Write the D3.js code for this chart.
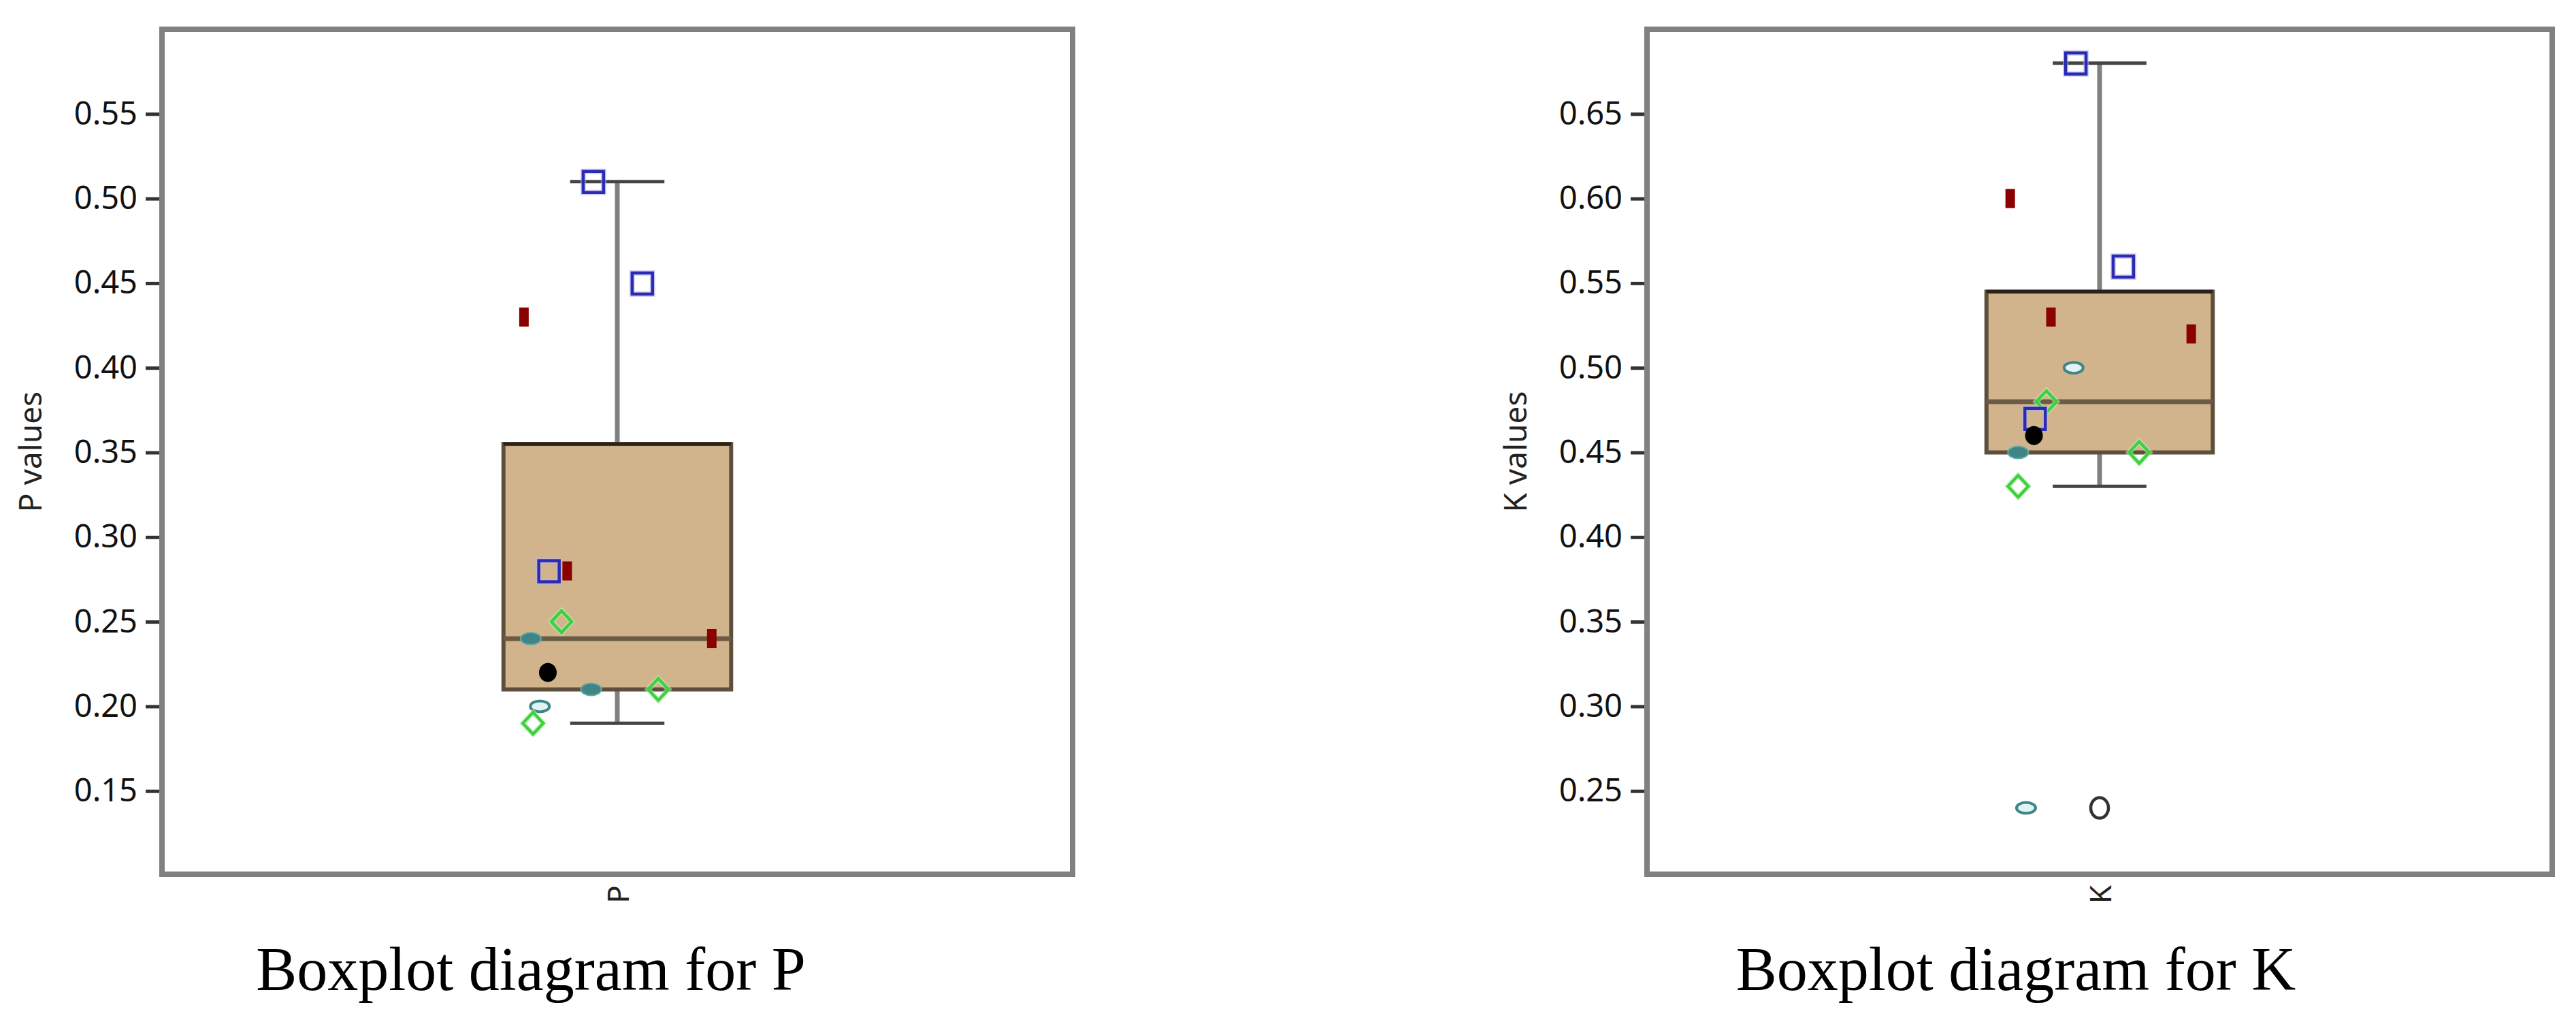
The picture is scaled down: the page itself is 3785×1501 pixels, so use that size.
<!DOCTYPE html>
<html><head><meta charset="utf-8">
<script src="https://cdn.jsdelivr.net/npm/d3@7"></script>
<style>html,body{margin:0;padding:0;background:#fff;} svg{display:block;}</style>
</head><body>
<svg id="chart" width="3785" height="1501"></svg>
<script>
// ---------- data ----------
const categories = ["P", "K"];
const yAxisTitles = ["P values", "K values"];
const chartTitles = ["Boxplot diagram for P", "Boxplot diagram for K"];
const pDomain = [0.10, 0.60];
const kDomain = [0.20, 0.70];
const pTicks = [0.15, 0.20, 0.25, 0.30, 0.35, 0.40, 0.45, 0.50, 0.55];
const kTicks = [0.25, 0.30, 0.35, 0.40, 0.45, 0.50, 0.55, 0.60, 0.65];
// [lower whisker, Q1, median, Q3, upper whisker]
const pBox = [0.19, 0.21, 0.24, 0.355, 0.51];
const kBox = [0.43, 0.45, 0.48, 0.545, 0.68];
const pValues  = [0.51, 0.45, 0.43, 0.28, 0.28, 0.25, 0.24, 0.24, 0.22, 0.21, 0.21, 0.20, 0.19];
const pSymbols = ["square","square","bar","square","bar","diamond","ellipse","bar","dot","ellipse","diamond","ring","diamond"];
const pJitter  = [-0.21, 0.22, -0.82, -0.60, -0.44, -0.49, -0.76, 0.83, -0.61, -0.23, 0.36, -0.68, -0.74];
const kValues  = [0.68, 0.60, 0.56, 0.53, 0.52, 0.50, 0.48, 0.47, 0.46, 0.45, 0.45, 0.43, 0.24, 0.24];
const kSymbols = ["square","bar","square","bar","bar","ring","diamond","square","dot","ellipse","diamond","diamond","ring","outlier"];
const kJitter  = [-0.21, -0.79, 0.21, -0.43, 0.81, -0.23, -0.47, -0.57, -0.58, -0.72, 0.35, -0.72, -0.65, 0];

// ---------- layout ----------
const svg = d3.select("#chart");
const frameTop = 43, frameBottom = 1284;
const panels = [
  {left: 238, right: 1576, domain: pDomain, ticks: pTicks, box: pBox, values: pValues, symbols: pSymbols, jitter: pJitter},
  {left: 2420, right: 3750, domain: kDomain, ticks: kTicks, box: kBox, values: kValues, symbols: kSymbols, jitter: kJitter}
];

function drawSymbol(g, type, x, y) {
  if (type === "square") {
    g.append("rect").attr("x", x - 15).attr("y", y - 15).attr("width", 30).attr("height", 31)
      .attr("fill", "none").attr("stroke", "#b4b4f4").attr("stroke-width", 8).attr("opacity", 0.6);
    g.append("rect").attr("x", x - 15).attr("y", y - 15).attr("width", 30).attr("height", 31)
      .attr("fill", "none").attr("stroke", "#2a2ab2").attr("stroke-width", 4.5);
  } else if (type === "bar") {
    g.append("rect").attr("x", x - 7).attr("y", y - 14).attr("width", 14).attr("height", 28)
      .attr("fill", "#8b0000");
  } else if (type === "diamond") {
    const p = `M${x},${y-16}L${x+15},${y}L${x},${y+16}L${x-15},${y}Z`;
    g.append("path").attr("d", p).attr("fill", "none").attr("stroke", "#b8f0b8").attr("stroke-width", 8).attr("opacity", 0.6);
    g.append("path").attr("d", p).attr("fill", "none").attr("stroke", "#3fd03f").attr("stroke-width", 4.5);
  } else if (type === "ellipse") {
    g.append("ellipse").attr("cx", x).attr("cy", y).attr("rx", 15).attr("ry", 9)
      .attr("fill", "#3f8585").attr("stroke", "#6aa8a8").attr("stroke-width", 2);
  } else if (type === "ring") {
    g.append("ellipse").attr("cx", x).attr("cy", y).attr("rx", 14).attr("ry", 8)
      .attr("fill", "#e2f3f3").attr("stroke", "#3f8585").attr("stroke-width", 4);
  } else if (type === "dot") {
    g.append("ellipse").attr("cx", x).attr("cy", y).attr("rx", 13).attr("ry", 14).attr("fill", "#000");
  } else if (type === "outlier") {
    g.append("ellipse").attr("cx", x).attr("cy", y).attr("rx", 13).attr("ry", 15)
      .attr("fill", "none").attr("stroke", "#333", ).attr("stroke-width", 4.5);
  }
}

panels.forEach((pn, i) => {
  const g = svg.append("g");
  const width = pn.right - pn.left;
  const y = d3.scaleLinear().domain(pn.domain).range([1286, 43]);
  const xBand = d3.scaleBand().domain([categories[i]]).range([pn.left, pn.right]).paddingInner(0).paddingOuter(1.5);
  const cx = xBand(categories[i]) + xBand.bandwidth() / 2;
  const bw = xBand.bandwidth();
  const xj = d3.scaleLinear().domain([-1, 1]).range([cx - bw / 2, cx + bw / 2]);
  const capHalf = bw * 0.207;

  // y axis
  const axis = g.append("g").attr("transform", `translate(${pn.left},0)`)
    .call(d3.axisLeft(y).tickValues(pn.ticks).tickSize(24).tickPadding(12).tickFormat(d3.format(".2f")));
  axis.select(".domain").remove();
  axis.selectAll(".tick line").attr("stroke", "#333").attr("stroke-width", 5);
  axis.selectAll(".tick text").attr("font-family", "'Noto Sans', sans-serif").attr("font-size", 47).attr("fill", "#111");

  // y title
  g.append("text").attr("transform", `translate(${pn.left - 195},${(frameTop + frameBottom) / 2}) rotate(-90)`)
    .attr("text-anchor", "middle").attr("dominant-baseline", "central")
    .attr("font-family", "'Noto Sans', sans-serif").attr("font-size", 46).attr("fill", "#222")
    .text(yAxisTitles[i]);

  // category label
  g.append("text").attr("transform", `translate(${cx},${frameBottom + 16}) rotate(-90)`)
    .attr("text-anchor", "end").attr("dominant-baseline", "central")
    .attr("font-family", "'Noto Sans', sans-serif").attr("font-size", 44).attr("fill", "#222")
    .text(categories[i]);

  // frame
  g.append("rect").attr("x", pn.left).attr("y", frameTop).attr("width", width).attr("height", frameBottom - frameTop)
    .attr("fill", "none").attr("stroke", "#808080").attr("stroke-width", 8);

  const [wLo, q1, med, q3, wHi] = pn.box;
  // whisker stems
  g.append("line").attr("x1", cx).attr("x2", cx).attr("y1", y(wHi)).attr("y2", y(q3))
    .attr("stroke", "#808080").attr("stroke-width", 7);
  g.append("line").attr("x1", cx).attr("x2", cx).attr("y1", y(q1)).attr("y2", y(wLo))
    .attr("stroke", "#808080").attr("stroke-width", 7);
  // caps
  [wHi, wLo].forEach(v => {
    g.append("line").attr("x1", cx - capHalf).attr("x2", cx + capHalf).attr("y1", y(v)).attr("y2", y(v))
      .attr("stroke", "#444").attr("stroke-width", 5);
  });
  // box
  g.append("rect").attr("x", cx - bw / 2).attr("y", y(q3)).attr("width", bw).attr("height", y(q1) - y(q3))
    .attr("fill", "#d2b48c").attr("stroke", "#5e4f3c").attr("stroke-width", 6);
  g.append("line").attr("x1", cx - bw / 2).attr("x2", cx + bw / 2).attr("y1", y(q3)).attr("y2", y(q3))
    .attr("stroke", "#2a2218").attr("stroke-width", 5);
  g.append("line").attr("x1", cx - bw / 2).attr("x2", cx + bw / 2).attr("y1", y(med)).attr("y2", y(med))
    .attr("stroke", "#6b5a45").attr("stroke-width", 7);

  // points
  pn.values.forEach((v, j) => drawSymbol(g, pn.symbols[j], xj(pn.jitter[j]), y(v)));

  // title
  g.append("text").attr("x", pn.left + 542).attr("y", 1454).attr("text-anchor", "middle")
    .attr("font-family", "'Liberation Serif', 'Times New Roman', serif").attr("font-size", 90).attr("fill", "#000")
    .text(chartTitles[i]);
});
</script>
</body></html>
